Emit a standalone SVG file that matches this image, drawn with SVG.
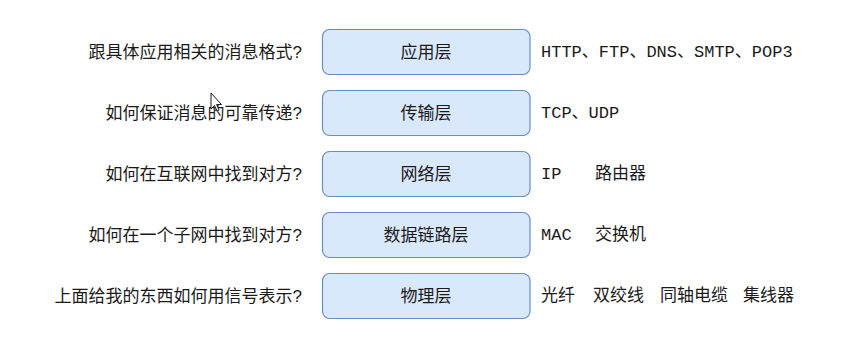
<svg xmlns="http://www.w3.org/2000/svg" width="849" height="357" viewBox="0 0 849 357">
<style>
.box{fill:#dae8fc;stroke:#6c8ebf;stroke-width:1.2}
.lbl{font-family:"Liberation Sans","Noto Sans CJK SC",sans-serif;font-size:17px;fill:#1a1a1a;text-anchor:middle;dominant-baseline:central}
.q{font-family:"Liberation Sans","Noto Sans CJK SC",sans-serif;font-size:17px;fill:#1a1a1a;text-anchor:end;dominant-baseline:central}
.p{font-family:"Liberation Mono","Noto Sans CJK SC",monospace;font-size:17px;fill:#1a1a1a;dominant-baseline:central}
</style>
<rect width="849" height="357" fill="#ffffff"/>
<g id="row1">
<text class="q" x="302" y="52">跟具体应用相关的消息格式?</text>
<rect class="box" x="322.5" y="29.5" width="207.5" height="45" rx="7"/>
<text class="lbl" x="426" y="52">应用层</text>
<text class="p" x="541" y="52">HTTP、FTP、DNS、SMTP、POP3</text>
</g>
<g id="row2">
<text class="q" x="302" y="113">如何保证消息的可靠传递?</text>
<rect class="box" x="322.5" y="90.5" width="207.5" height="45" rx="7"/>
<text class="lbl" x="426" y="113">传输层</text>
<text class="p" x="541" y="113">TCP、UDP</text>
</g>
<g id="row3">
<text class="q" x="302" y="174">如何在互联网中找到对方?</text>
<rect class="box" x="322.5" y="151.5" width="207.5" height="45" rx="7"/>
<text class="lbl" x="426" y="174">网络层</text>
<text class="p" y="174"><tspan x="541">IP</tspan><tspan x="595">路由器</tspan></text>
</g>
<g id="row4">
<text class="q" x="302" y="235">如何在一个子网中找到对方?</text>
<rect class="box" x="322.5" y="212.5" width="207.5" height="45" rx="7"/>
<text class="lbl" x="426" y="235">数据链路层</text>
<text class="p" y="235"><tspan x="541">MAC</tspan><tspan x="595">交换机</tspan></text>
</g>
<g id="row5">
<text class="q" x="302" y="296">上面给我的东西如何用信号表示?</text>
<rect class="box" x="322.5" y="273.5" width="207.5" height="45" rx="7"/>
<text class="lbl" x="426" y="296">物理层</text>
<text class="p" y="296"><tspan x="541">光纤</tspan><tspan x="593">双绞线</tspan><tspan x="660">同轴电缆</tspan><tspan x="743">集线器</tspan></text>
</g>
<g id="connectors"></g>
<g id="cursor">
<path d="M211 93 L211 109 L214.5 105.5 L217 111 L219 110 L216.6 104.6 L221.5 104.5 Z" fill="#ffffff" stroke="#000000" stroke-width="0.9" stroke-linejoin="round"/>
</g>
</svg>
